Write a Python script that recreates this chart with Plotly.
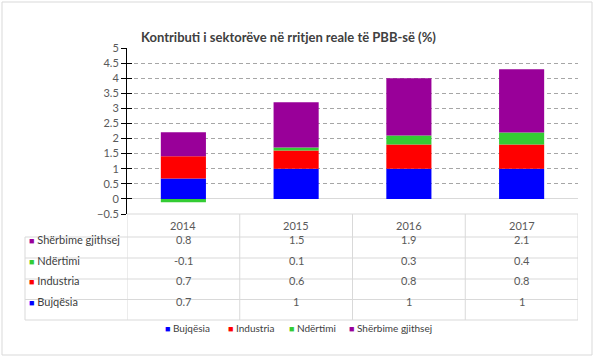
import plotly.graph_objects as go

years = ["2014", "2015", "2016", "2017"]
series_names = ["Bujqësia", "Industria", "Ndërtimi", "Shërbime gjithsej"]
bujqesia = [0.68, 1.0, 1.0, 1.0]
industria = [0.73, 0.6, 0.8, 0.8]
ndertimi = [-0.11, 0.1, 0.3, 0.4]
sherbime = [0.8, 1.5, 1.9, 2.1]
colors = ["#0000ff", "#ff0000", "#33cc33", "#990099"]

W, H = 595, 359
def px(x):
    return x / W
def py(y):
    return 1 - y / H

FONT = "Lato, 'Open Sans', sans-serif"
TXT = "#404040"
GRID = "#d9d9d9"

fig = go.Figure()
all_series = [bujqesia, industria, ndertimi, sherbime]
for name, vals, col in zip(series_names, all_series, colors):
    fig.add_trace(go.Bar(x=years, y=vals, name=name, marker=dict(color=col, line=dict(width=0)),
                         width=0.4, showlegend=False))

# plot area geometry (pixels)
x0, x1 = 127, 578
y_top, y_bot = 48, 214
row_edges = [214, 237, 258, 279, 299.5, 320]
label_left = 25

shapes = []
shapes.append(dict(type="rect", xref="paper", yref="paper", x0=px(2), x1=px(592), y0=py(355), y1=py(2),
                   line=dict(color=GRID, width=1)))
for i, ry in enumerate(row_edges):
    left = x0 if i == 0 else label_left
    shapes.append(dict(type="line", xref="paper", yref="paper", x0=px(left), x1=px(x1), y0=py(ry), y1=py(ry),
                       line=dict(color=GRID, width=1)))
for b in [-0.5, 0.5, 1.5, 2.5, 3.5]:
    shapes.append(dict(type="line", xref="x", yref="paper", x0=b, x1=b, y0=py(row_edges[-1]), y1=py(row_edges[0]),
                       line=dict(color=GRID, width=1)))
shapes.append(dict(type="line", xref="paper", yref="paper", x0=px(label_left), x1=px(label_left),
                   y0=py(row_edges[-1]), y1=py(row_edges[1]), line=dict(color=GRID, width=1)))

annotations = []
annotations.append(dict(text="<b>Kontributi i sektorëve në rritjen reale të PBB-së (%)</b>", xref="paper", yref="paper",
                        x=px(288), y=py(27), showarrow=False, font=dict(size=13, color=TXT, family=FONT)))
for i, yr in enumerate(years):
    annotations.append(dict(text=yr, xref="x", yref="paper", x=i, y=py((row_edges[0] + row_edges[1]) / 2),
                            showarrow=False, font=dict(size=11, color="#595959", family=FONT)))

def fmt(v):
    return f"{round(v, 1):g}"

row_order = [3, 2, 1, 0]
for r, si in enumerate(row_order):
    cy = py((row_edges[r + 1] + row_edges[r + 2]) / 2)
    annotations.append(dict(text=f"<span style='color:{colors[si]};font-size:9px'>■</span> {series_names[si]}",
                            xref="paper", yref="paper", x=px(label_left + 2), y=cy, xanchor="left",
                            showarrow=False, font=dict(size=11, color=TXT, family=FONT)))
    for i, v in enumerate(all_series[si]):
        annotations.append(dict(text=fmt(v), xref="x", yref="paper", x=i, y=cy, showarrow=False,
                                font=dict(size=11, color="#595959", family=FONT)))

# legend (drawn as text so the swatches stay small, as in the reference)
legend_x = [163, 226, 287, 347]
for name, col, lx in zip(series_names, colors, legend_x):
    annotations.append(dict(text=f"<span style='color:{col};font-size:9px'>■</span> {name}",
                            xref="paper", yref="paper", x=px(lx), y=py(336), xanchor="left",
                            showarrow=False, font=dict(size=10, color=TXT, family=FONT)))

fig.update_layout(
    width=W, height=H,
    autosize=False,
    margin=dict(l=0, r=0, t=0, b=0, pad=0, autoexpand=False),
    paper_bgcolor="white", plot_bgcolor="white",
    barmode="relative",
    font=dict(family=FONT, color=TXT),
    showlegend=False,
    xaxis=dict(domain=[px(x0), px(x1)], range=[-0.5, 3.5], type="category", showticklabels=False,
               showgrid=False, zeroline=False, showline=False, ticks="", automargin=False),
    yaxis=dict(domain=[py(y_bot), py(y_top)], range=[-0.5, 5], dtick=0.5, tick0=0, automargin=False,
               showline=True, linecolor="black", linewidth=1, ticks="outside", ticklen=5, tickcolor="black",
               showgrid=True, gridcolor="#a6a6a6", griddash="4px,3px", gridwidth=1,
               zeroline=True, zerolinecolor=GRID, zerolinewidth=1,
               tickfont=dict(size=11, color="#595959", family=FONT)),
    yaxis2=dict(domain=[py(y_bot), py(y_top)], range=[-0.5, 5], dtick=0.5, tick0=0, automargin=False,
                overlaying="y", side="left", anchor="x", matches="y",
                showline=False, ticks="inside", ticklen=5, tickcolor="black", showticklabels=False,
                showgrid=False, zeroline=False),
    shapes=shapes,
    annotations=annotations,
)
# invisible trace to carry the second (tick-only) axis
fig.add_trace(go.Scatter(x=[years[0]], y=[0], yaxis="y2", mode="markers", marker=dict(opacity=0),
                         showlegend=False, hoverinfo="skip"))

fig.write_html("out.html", config={"displayModeBar": False},
               post_script="document.body.style.margin='0';document.body.style.overflow='hidden';")
